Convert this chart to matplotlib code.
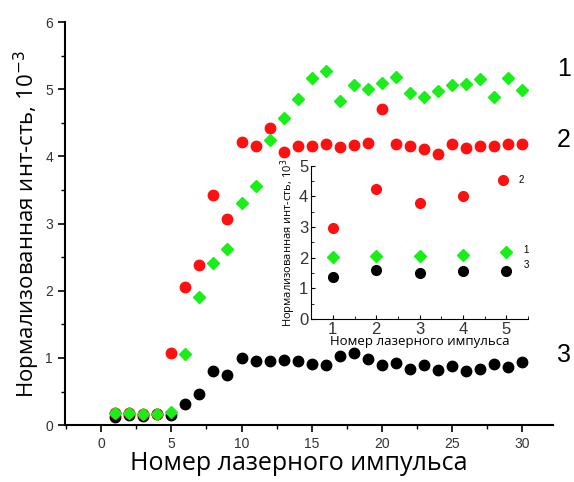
import numpy as np
import matplotlib.pyplot as plt
from matplotlib.ticker import MultipleLocator

plt.rcParams['font.family'] = ['Liberation Sans', 'DejaVu Sans']

# основной график: номер импульса 1..30
pulse = np.arange(1, 31)
s1 = [0.18, 0.18, 0.17, 0.17, 0.19, 1.06, 1.91, 2.42, 2.62, 3.31,
      3.56, 4.24, 4.58, 4.86, 5.17, 5.27, 4.83, 5.06, 5.00, 5.10,
      5.18, 4.94, 4.89, 4.98, 5.06, 5.08, 5.15, 4.89, 5.17, 4.99]
s2 = [0.18, 0.18, 0.17, 0.17, 1.08, 2.06, 2.38, 3.43, 3.07, 4.21,
      4.16, 4.43, 4.07, 4.16, 4.16, 4.19, 4.14, 4.17, 4.20, 4.70,
      4.19, 4.15, 4.11, 4.04, 4.19, 4.12, 4.16, 4.16, 4.18, 4.19]
s3 = [0.12, 0.15, 0.13, 0.16, 0.15, 0.31, 0.46, 0.80, 0.75, 1.00,
      0.95, 0.95, 0.97, 0.96, 0.91, 0.89, 1.03, 1.07, 0.99, 0.90,
      0.92, 0.84, 0.90, 0.82, 0.88, 0.81, 0.84, 0.91, 0.87, 0.94]

# вставка: номер импульса 1..5
pulse_in = np.array([1, 2, 3, 4, 5])
pulse_in2 = np.array([1, 2, 3, 4, 4.93])
in1 = [2.02, 2.07, 2.07, 2.09, 2.18]
in2 = [2.98, 4.25, 3.78, 4.00, 4.54]
in3 = [1.36, 1.60, 1.49, 1.57, 1.57]
in_ticks = [0, 1, 2, 3, 4, 5]

green = '#19ee19'
red = '#ff1010'

fig = plt.figure(figsize=(5.74, 4.82), dpi=100)
ax = fig.add_axes([0.113, 0.118, 0.85, 0.836])

ax.plot(pulse, s3, 'o', color='black', ms=7.5, zorder=3)
ax.plot(pulse, s2, 'o', color=red, ms=7.5, zorder=4)
ax.plot(pulse, s1, 'D', color=green, ms=6.5, zorder=5)

ax.set_xlim(-2.6, 32.2)
ax.set_ylim(0, 6)
ax.xaxis.set_major_locator(MultipleLocator(5))
ax.xaxis.set_minor_locator(MultipleLocator(2.5))
ax.yaxis.set_major_locator(MultipleLocator(1))
ax.yaxis.set_minor_locator(MultipleLocator(0.5))
ax.tick_params(which='major', direction='out', length=5, width=1.2, labelsize=10,
               labelcolor='#333333')
ax.tick_params(which='minor', direction='out', length=3, width=1)
for sp in ['top', 'right']:
    ax.spines[sp].set_visible(False)
for sp in ['left', 'bottom']:
    ax.spines[sp].set_linewidth(1.5)

ax.set_xlabel('Номер лазерного импульса', fontsize=18, family='Open Sans', labelpad=0)
ax.xaxis.set_label_coords(0.48, -0.065)
ax.set_ylabel('Нормализованная инт-сть, 10$^{-3}$', fontsize=16, family='Open Sans', labelpad=2)

ax.text(32.5, 5.3, '1', fontsize=18, va='center', ha='left', clip_on=False)
ax.text(32.5, 4.25, '2', fontsize=18, va='center', ha='left', clip_on=False)
ax.text(32.5, 1.04, '3', fontsize=18, va='center', ha='left', clip_on=False)

# вставка
ins = fig.add_axes([0.542, 0.338, 0.378, 0.318])
ins.plot(pulse_in, in3, 'o', color='black', ms=7)
ins.plot(pulse_in2, in2, 'o', color=red, ms=7)
ins.plot(pulse_in, in1, 'D', color=green, ms=6)
ins.set_xlim(0.5, 5.5)
ins.set_ylim(0, 5)
ins.set_xticks(pulse_in)
ins.set_yticks(in_ticks)
ins.xaxis.set_minor_locator(MultipleLocator(0.5))
ins.yaxis.set_minor_locator(MultipleLocator(0.5))
ins.tick_params(which='major', direction='in', length=3, width=0.8, labelsize=12, pad=2,
                labelcolor='#333333')
ins.tick_params(which='minor', direction='in', length=2, width=0.6)
for sp in ['top', 'right']:
    ins.spines[sp].set_visible(False)
ins.patch.set_alpha(0)
ins.set_xlabel('Номер лазерного импульса', fontsize=9.5, family='Open Sans', labelpad=-1)
ins.set_ylabel('Нормализованная инт-сть, 10$^{3}$', fontsize=8, family='Open Sans', labelpad=1)
ins.text(5.28, 4.55, '2', fontsize=7, va='center')
ins.text(5.4, 2.25, '1', fontsize=7, va='center')
ins.text(5.4, 1.76, '3', fontsize=7, va='center')

fig.savefig('out.png', dpi=100)
